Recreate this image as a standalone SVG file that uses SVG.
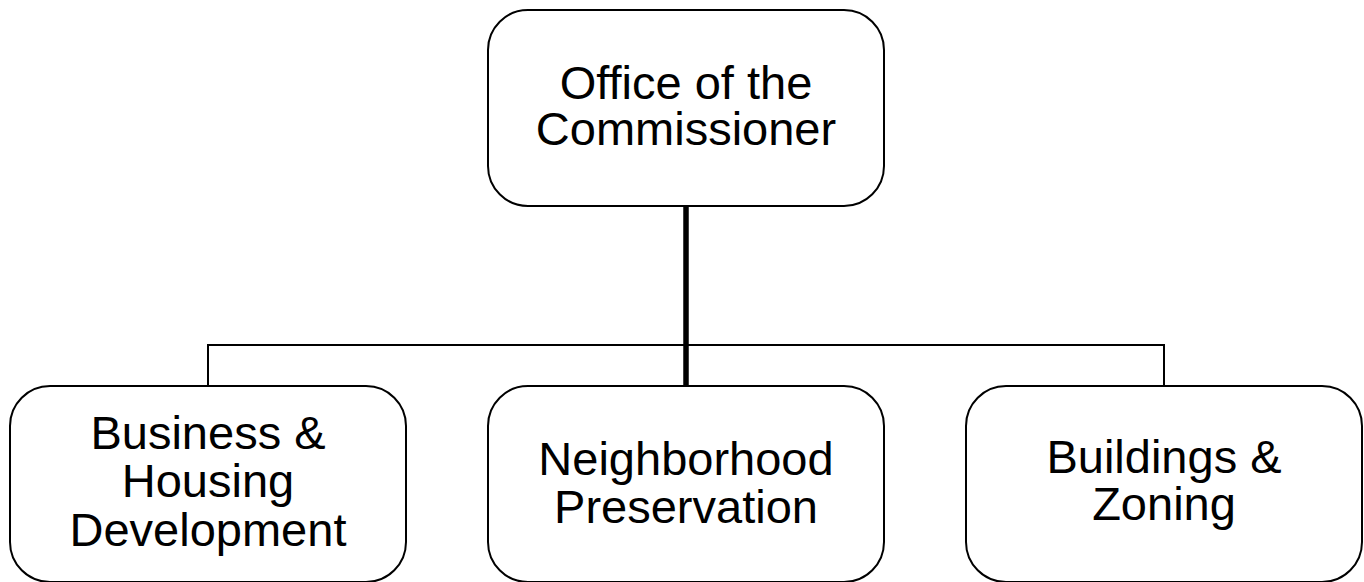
<svg xmlns="http://www.w3.org/2000/svg" width="1364" height="582" viewBox="0 0 1364 582">
  <style>
    .box { fill: #ffffff; stroke: #000000; stroke-width: 2; }
    .label { font-family: "Liberation Sans", Arial, sans-serif; font-size: 47px; fill: #000000; text-anchor: middle; }
    .trunk { stroke: #000000; stroke-width: 5.5; fill: none; }
    .branch { stroke: #000000; stroke-width: 2; fill: none; }
  </style>
  <rect width="1364" height="582" fill="#ffffff"/>

  <!-- connectors -->
  <g id="connectors">
    <polyline class="branch" points="208,386 208,345 1164,345 1164,386"/>
    <line class="trunk" x1="686" y1="206" x2="686" y2="386"/>
  </g>

  <!-- top-level office -->
  <g id="commissioner">
    <rect class="box" x="488" y="10" width="396" height="196" rx="40" ry="40"/>
    <text class="label" x="686" y="99">Office of the</text>
    <text class="label" x="686" y="145">Commissioner</text>
  </g>

  <!-- divisions -->
  <g id="business-housing">
    <rect class="box" x="10" y="386" width="396" height="196" rx="40" ry="40"/>
    <text class="label" x="208" y="449">Business &amp;</text>
    <text class="label" x="208" y="497">Housing</text>
    <text class="label" x="208" y="546">Development</text>
  </g>

  <g id="neighborhood">
    <rect class="box" x="488" y="386" width="396" height="196" rx="40" ry="40"/>
    <text class="label" x="686" y="475">Neighborhood</text>
    <text class="label" x="686" y="523">Preservation</text>
  </g>

  <g id="buildings-zoning">
    <rect class="box" x="966" y="386" width="396" height="196" rx="40" ry="40"/>
    <text class="label" x="1164" y="473">Buildings &amp;</text>
    <text class="label" x="1164" y="520">Zoning</text>
  </g>
</svg>
